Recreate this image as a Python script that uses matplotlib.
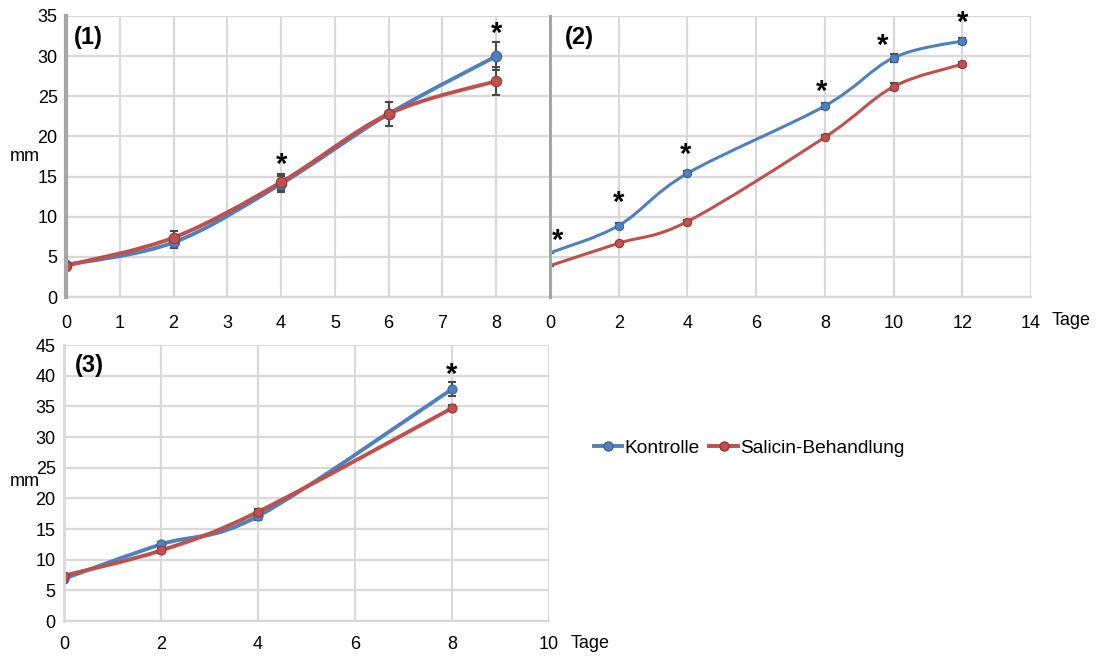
import numpy as np
import matplotlib
matplotlib.use("Agg")
import matplotlib.pyplot as plt
from matplotlib.path import Path
from matplotlib.patches import PathPatch
from matplotlib.lines import Line2D

plt.rcParams['font.family'] = ['Liberation Sans', 'DejaVu Sans']

# ---- data -------------------------------------------------------------
days_1 = [0, 2, 4, 6, 8]
kontrolle_1 = [4.0, 6.8, 14.1, 22.8, 30.0]
kontrolle_1_err = [0.2, 0.7, 1.0, 1.5, 1.7]
salicin_1 = [3.9, 7.4, 14.3, 22.8, 26.9]
salicin_1_err = [0.2, 0.8, 1.0, 1.5, 1.7]
signif_1 = [4, 8]

days_2 = [0, 2, 4, 8, 10, 12]
kontrolle_2 = [5.5, 8.9, 15.4, 23.8, 29.8, 31.9]
kontrolle_2_err = [0.0, 0.3, 0.3, 0.4, 0.5, 0.4]
salicin_2 = [3.9, 6.7, 9.4, 19.9, 26.2, 29.0]
salicin_2_err = [0.0, 0.2, 0.2, 0.3, 0.4, 0.3]
signif_2 = [0, 2, 4, 8, 10, 12]

days_3 = [0, 2, 4, 8]
kontrolle_3 = [6.9, 12.5, 17.1, 37.8]
kontrolle_3_err = [0.3, 0.4, 0.6, 1.1]
salicin_3 = [7.4, 11.5, 17.8, 34.7]
salicin_3_err = [0.3, 0.4, 0.5, 0.5]
signif_3 = [8]

series_names = ["Kontrolle", "Salicin-Behandlung"]

# ---- style ------------------------------------------------------------
BLUE, BLUE_EDGE = "#4f81bd", "#3a6496"
RED, RED_EDGE = "#c0504d", "#923a38"
GRID = "#d9d9d9"
AXIS_DARK = "#a6a6a6"
ERR = "#4a4a4a"
FS = 13

W, H = 1097, 656
fig = plt.figure(figsize=(W / 100, H / 100), dpi=100)


def rect(l, r, t, b):
    return [l / W, 1 - b / H, (r - l) / W, (b - t) / H]


def smooth_path(x, y):
    """Cubic Bezier path through the points (Catmull-Rom style smoothing)."""
    p = np.column_stack([x, y]).astype(float)
    n = len(p)
    verts = [p[0]]
    codes = [Path.MOVETO]
    for i in range(n - 1):
        p0 = p[max(i - 1, 0)]
        p1 = p[i]
        p2 = p[i + 1]
        p3 = p[min(i + 2, n - 1)]
        c1 = p1 + (p2 - p0) / 6.0
        c2 = p2 - (p3 - p1) / 6.0
        verts += [c1, c2, p2]
        codes += [Path.CURVE4] * 3
    return Path(verts, codes)


def draw_series(ax, x, y, err, color, edge, lw, ms, skip_first=False):
    ax.errorbar(x, y, yerr=err, fmt='none', ecolor=ERR, elinewidth=1.5,
                capsize=2.8, capthick=1.5, zorder=3)
    ax.add_patch(PathPatch(smooth_path(x, y), fill=False, edgecolor=color,
                           lw=lw, capstyle='round', joinstyle='round',
                           zorder=4))
    xs, ys = (x[1:], y[1:]) if skip_first else (x, y)
    ax.plot(xs, ys, ls='none', marker='o', ms=ms, mfc=color, mec=edge,
            mew=0.8, zorder=5)


def style_axes(ax, xlim, ylim, xticks, xlabels, yticks, show_y, left_color,
               left_lw, xpad):
    ax.set_xlim(*xlim)
    ax.set_ylim(*ylim)
    ax.set_xticks(xticks)
    ax.set_xticklabels(xlabels)
    ax.set_yticks(yticks)
    if not show_y:
        ax.set_yticklabels([])
    ax.grid(True, color=GRID, lw=1.6, zorder=0)
    ax.set_axisbelow(True)
    for s in ("top", "right"):
        ax.spines[s].set_visible(False)
    ax.spines["bottom"].set_color(GRID)
    ax.spines["bottom"].set_linewidth(1.6)
    ax.spines["left"].set_color(left_color)
    ax.spines["left"].set_linewidth(left_lw)
    ax.spines["left"].set_zorder(6)
    ax.tick_params(length=0, labelsize=FS, colors="#000000")
    ax.tick_params(axis='x', pad=xpad)
    ax.tick_params(axis='y', pad=6)
    ax.set_facecolor("none")


def stars(ax, x_vals, days, a, ae, b, be, dy, dx=None):
    for k, d in enumerate(x_vals):
        i = days.index(d)
        top = max(a[i] + ae[i], b[i] + be[i])
        ox = 0 if dx is None else dx[k]
        ax.annotate("*", xy=(d, top), xytext=(ox, dy[k]),
                    textcoords='offset pixels', ha='center', va='center',
                    fontsize=21, fontweight='bold', zorder=7)


def panel_label(ax, text, x):
    ax.text(x, 0.925, text, transform=ax.transAxes, fontsize=17,
            fontweight='bold', va='center', ha='left')


# ---- panel (1) --------------------------------------------------------
ax1 = fig.add_axes(rect(66, 550, 16, 297))
style_axes(ax1, (0, 9), (0, 35), range(0, 10),
           [str(v) for v in range(0, 9)] + [""], range(0, 36, 5), True,
           AXIS_DARK, 3.0, 13)
draw_series(ax1, days_1, kontrolle_1, kontrolle_1_err, BLUE, BLUE_EDGE, 2.8, 7.5)
draw_series(ax1, days_1, salicin_1, salicin_1_err, RED, RED_EDGE, 2.8, 7.5)
stars(ax1, signif_1, days_1, kontrolle_1, kontrolle_1_err, salicin_1,
      salicin_1_err, dy=[9, 9])
panel_label(ax1, "(1)", 0.016)

# ---- panel (2) --------------------------------------------------------
ax2 = fig.add_axes(rect(550, 1031, 16, 297))
style_axes(ax2, (0, 14), (0, 35), range(0, 15, 2),
           [str(v) for v in range(0, 15, 2)], range(0, 36, 5), False,
           AXIS_DARK, 2.2, 13)
draw_series(ax2, days_2, kontrolle_2, kontrolle_2_err, BLUE, BLUE_EDGE, 2.2, 6,
            skip_first=True)
draw_series(ax2, days_2, salicin_2, salicin_2_err, RED, RED_EDGE, 2.2, 6,
            skip_first=True)
stars(ax2, signif_2, days_2, kontrolle_2, kontrolle_2_err, salicin_2,
      salicin_2_err, dy=[12, 20, 16, 11, 8, 15], dx=[8, 0, -2, -3, -11, 0])
panel_label(ax2, "(2)", 0.03)

# ---- panel (3) --------------------------------------------------------
ax3 = fig.add_axes(rect(64, 549, 345, 621))
style_axes(ax3, (0, 10), (0, 45), range(0, 11, 2),
           [str(v) for v in range(0, 11, 2)], range(0, 46, 5), True,
           GRID, 2.0, 11)
draw_series(ax3, days_3, kontrolle_3, kontrolle_3_err, BLUE, BLUE_EDGE, 2.8, 6.5)
draw_series(ax3, days_3, salicin_3, salicin_3_err, RED, RED_EDGE, 2.8, 6.5)
stars(ax3, signif_3, days_3, kontrolle_3, kontrolle_3_err, salicin_3,
      salicin_3_err, dy=[7])
panel_label(ax3, "(3)", 0.022)

# ---- axis captions ------------------------------------------------------
fig.text(10 / W, 1 - 157 / H, "mm", fontsize=FS, va='center', ha='left')
fig.text(10 / W, 1 - 482 / H, "mm", fontsize=FS, va='center', ha='left')
fig.text(1052 / W, 1 - 321 / H, "Tage", fontsize=FS, va='center', ha='left')
fig.text(571 / W, 1 - 643 / H, "Tage", fontsize=FS, va='center', ha='left')

# ---- legend -----------------------------------------------------------
handles = [
    Line2D([], [], color=BLUE, lw=2.8, marker='o', ms=6.5, mfc=BLUE, mec=BLUE_EDGE),
    Line2D([], [], color=RED, lw=2.8, marker='o', ms=6.5, mfc=RED, mec=RED_EDGE),
]
fig.legend(handles, series_names, loc='center left',
           bbox_to_anchor=(586 / W, 1 - 448 / H), ncol=2, frameon=False,
           fontsize=13.8, handlelength=1.5, handletextpad=0.1,
           columnspacing=0.5, borderaxespad=0)

fig.savefig("out.png", dpi=100)
